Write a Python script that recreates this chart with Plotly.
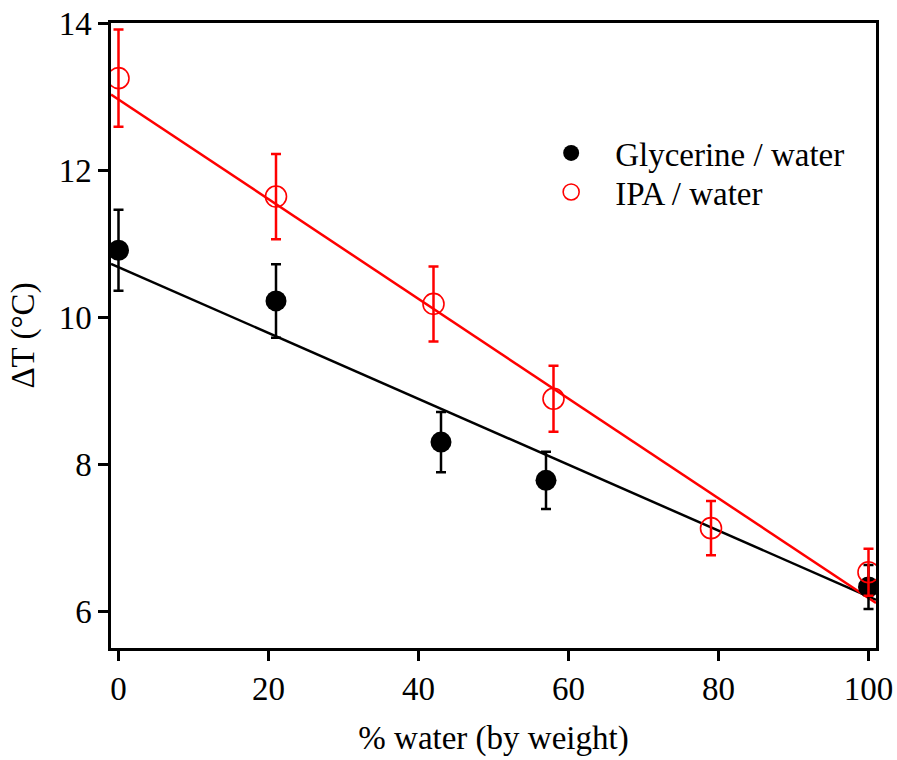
import plotly.graph_objects as go
import numpy as np

# Data
gly_x = [0, 21, 43, 57, 100]
gly_y = [10.91, 10.22, 8.30, 7.78, 6.33]
gly_err = [0.55, 0.50, 0.41, 0.39, 0.30]

ipa_x = [0, 21, 42, 58, 79, 100]
ipa_y = [13.25, 11.64, 10.18, 8.89, 7.13, 6.53]
ipa_err = [0.66, 0.58, 0.51, 0.45, 0.37, 0.32]

# Linear fits (intercept, slope)
gly_fit = (10.68, -0.0448)
ipa_fit = (12.96, -0.0678)
fit_x = [-1, 101]

FONT = "Liberation Serif, Times New Roman, serif"
FS = 33

fig = go.Figure()

fx = np.array(fit_x, dtype=float)
fig.add_trace(go.Scatter(x=fx, y=gly_fit[0] + gly_fit[1] * fx, mode="lines",
                         line=dict(color="black", width=2.5), showlegend=False,
                         hoverinfo="skip"))
fig.add_trace(go.Scatter(x=fx, y=ipa_fit[0] + ipa_fit[1] * fx, mode="lines",
                         line=dict(color="red", width=2.5), showlegend=False,
                         hoverinfo="skip"))

fig.add_trace(go.Scatter(
    x=gly_x, y=gly_y, mode="markers", name="Glycerine / water",
    marker=dict(symbol="circle", size=21, color="black"),
    error_y=dict(type="data", array=gly_err, visible=True, color="black",
                 thickness=2.5, width=5),
    legend="legend"))
fig.add_trace(go.Scatter(
    x=ipa_x, y=ipa_y, mode="markers", name="IPA / water",
    marker=dict(symbol="circle-open", size=21, color="red", line=dict(width=1.6)),
    error_y=dict(type="data", array=ipa_err, visible=True, color="red",
                 thickness=2.5, width=5),
    legend="legend2"))

axis_common = dict(showline=True, linecolor="black", linewidth=2.5, mirror=True,
                   ticks="outside", ticklen=10, tickwidth=2.5, tickcolor="black",
                   showgrid=False, zeroline=False, automargin=False,
                   tickfont=dict(family=FONT, size=FS, color="black"))

fig.update_xaxes(range=[-1, 101], tickvals=[0, 20, 40, 60, 80, 100],
                 title=dict(text="% water (by weight)",
                            font=dict(family=FONT, size=FS, color="black"),
                            standoff=20),
                 **axis_common)
fig.update_yaxes(range=[5.5, 14], tickvals=[6, 8, 10, 12, 14],
                 title=dict(text="ΔT (°C)",
                            font=dict(family=FONT, size=FS, color="black"),
                            standoff=15),
                 **axis_common)

leg_common = dict(xanchor="left", yanchor="middle", bgcolor="rgba(0,0,0,0)",
                  font=dict(family=FONT, size=FS, color="black"), itemwidth=78)
fig.update_layout(
    width=897, height=760,
    margin=dict(l=111, r=21, t=23, b=112),
    plot_bgcolor="white", paper_bgcolor="white",
    font=dict(family=FONT, size=FS, color="black"),
    legend=dict(x=0.544, y=1 - (153 - 23) / 625, **leg_common),
    legend2=dict(x=0.544, y=1 - (192 - 23) / 625, **leg_common),
)

fig.write_html("out.html", config={"displayModeBar": False},
               post_script="document.body.style.margin='0';document.body.style.overflow='hidden';")
